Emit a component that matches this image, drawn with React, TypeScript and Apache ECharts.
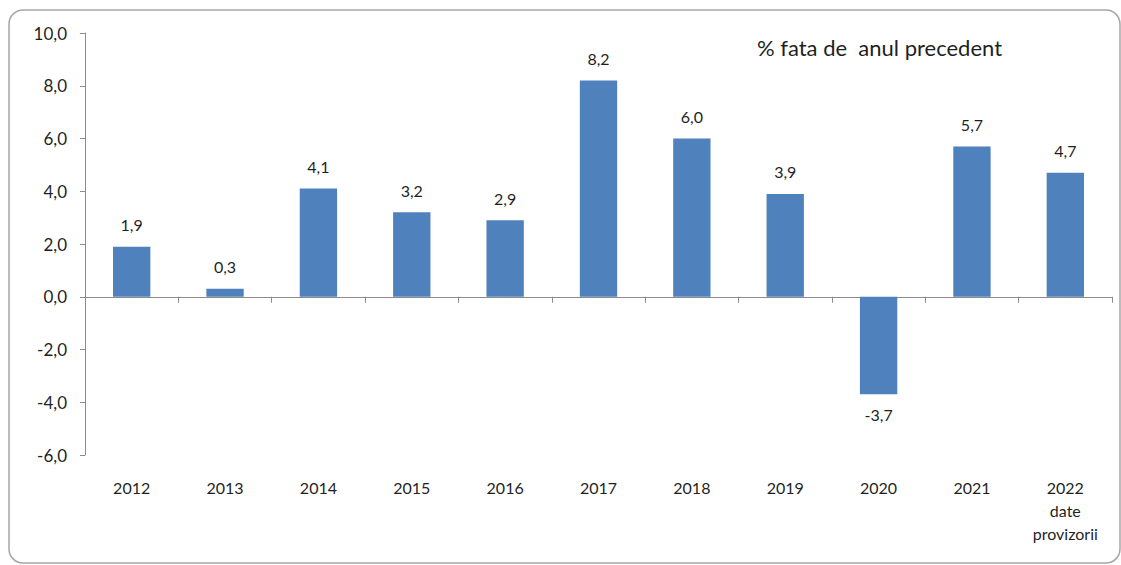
import React, { useEffect, useRef } from "react";
import * as echarts from "echarts";

const categories = ["2012", "2013", "2014", "2015", "2016", "2017", "2018", "2019", "2020", "2021", "2022\ndate\nprovizorii"];
const values = [1.9, 0.3, 4.1, 3.2, 2.9, 8.2, 6.0, 3.9, -3.7, 5.7, 4.7];
const yMin = -6;
const yMax = 10;
const yInterval = 2;
const titleText = "% fata de  anul precedent";

const fmt = (v: number) => v.toFixed(1).replace(".", ",");

export default function App() {
  const ref = useRef<HTMLDivElement>(null);
  useEffect(() => {
    if (!ref.current) return;
    const chart = echarts.init(ref.current, null, { renderer: "svg" });
    const font = "Lato, 'Open Sans', sans-serif";
    const textColor = "#1f1f1f";
    chart.setOption({
      animation: false,
      backgroundColor: "#ffffff",
      textStyle: { fontFamily: font },
      graphic: [
        {
          type: "rect",
          shape: { x: 9, y: 10, width: 1111, height: 553, r: 14 },
          style: { fill: "none", stroke: "#a6a6a6", lineWidth: 1.5 },
          z: -1,
        },
      ],
      title: {
        text: titleText,
        left: 752,
        top: 31,
        textStyle: { fontFamily: font, fontSize: 22, fontWeight: "normal", color: textColor },
      },
      grid: { left: 85, right: 9, top: 33, bottom: 110, containLabel: false },
      xAxis: [
        {
          type: "category",
          data: categories,
          boundaryGap: true,
          axisLine: { show: true, onZero: true, lineStyle: { color: "#8c8c8c", width: 1 } },
          axisTick: { show: true, length: 6, lineStyle: { color: "#8c8c8c" } },
          axisLabel: { show: false },
        },
        {
          type: "category",
          data: categories,
          position: "bottom",
          boundaryGap: true,
          axisLine: { show: false, onZero: false },
          axisTick: { show: false },
          axisLabel: {
            show: true,
            interval: 0,
            margin: 21,
            fontSize: 16,
            lineHeight: 23,
            color: textColor,
            fontFamily: font,
          },
        },
      ],
      yAxis: {
        type: "value",
        min: yMin,
        max: yMax,
        interval: yInterval,
        splitLine: { show: false },
        axisLine: { show: true, lineStyle: { color: "#8c8c8c", width: 1 } },
        axisTick: { show: true, length: 5, lineStyle: { color: "#8c8c8c" } },
        axisLabel: {
          margin: 18,
          fontSize: 17,
          color: textColor,
          fontFamily: font,
          formatter: (v: number) => fmt(v),
        },
      },
      series: [
        {
          type: "bar",
          xAxisIndex: 0,
          barWidth: "40%",
          itemStyle: { color: "#4F81BD" },
          label: {
            show: true,
            position: "top",
            distance: 14,
            fontSize: 16,
            color: textColor,
            fontFamily: font,
            formatter: (p: any) => fmt(p.value),
          },
          data: values.map((v) =>
            v < 0 ? { value: v, label: { position: "bottom", distance: 12 } } : { value: v }
          ),
        },
      ],
    });
    return () => chart.dispose();
  }, []);
  return (
    <div
      ref={ref}
      style={{ position: "fixed", left: 0, top: 0, width: 1121, height: 565, background: "#fff" }}
    />
  );
}
